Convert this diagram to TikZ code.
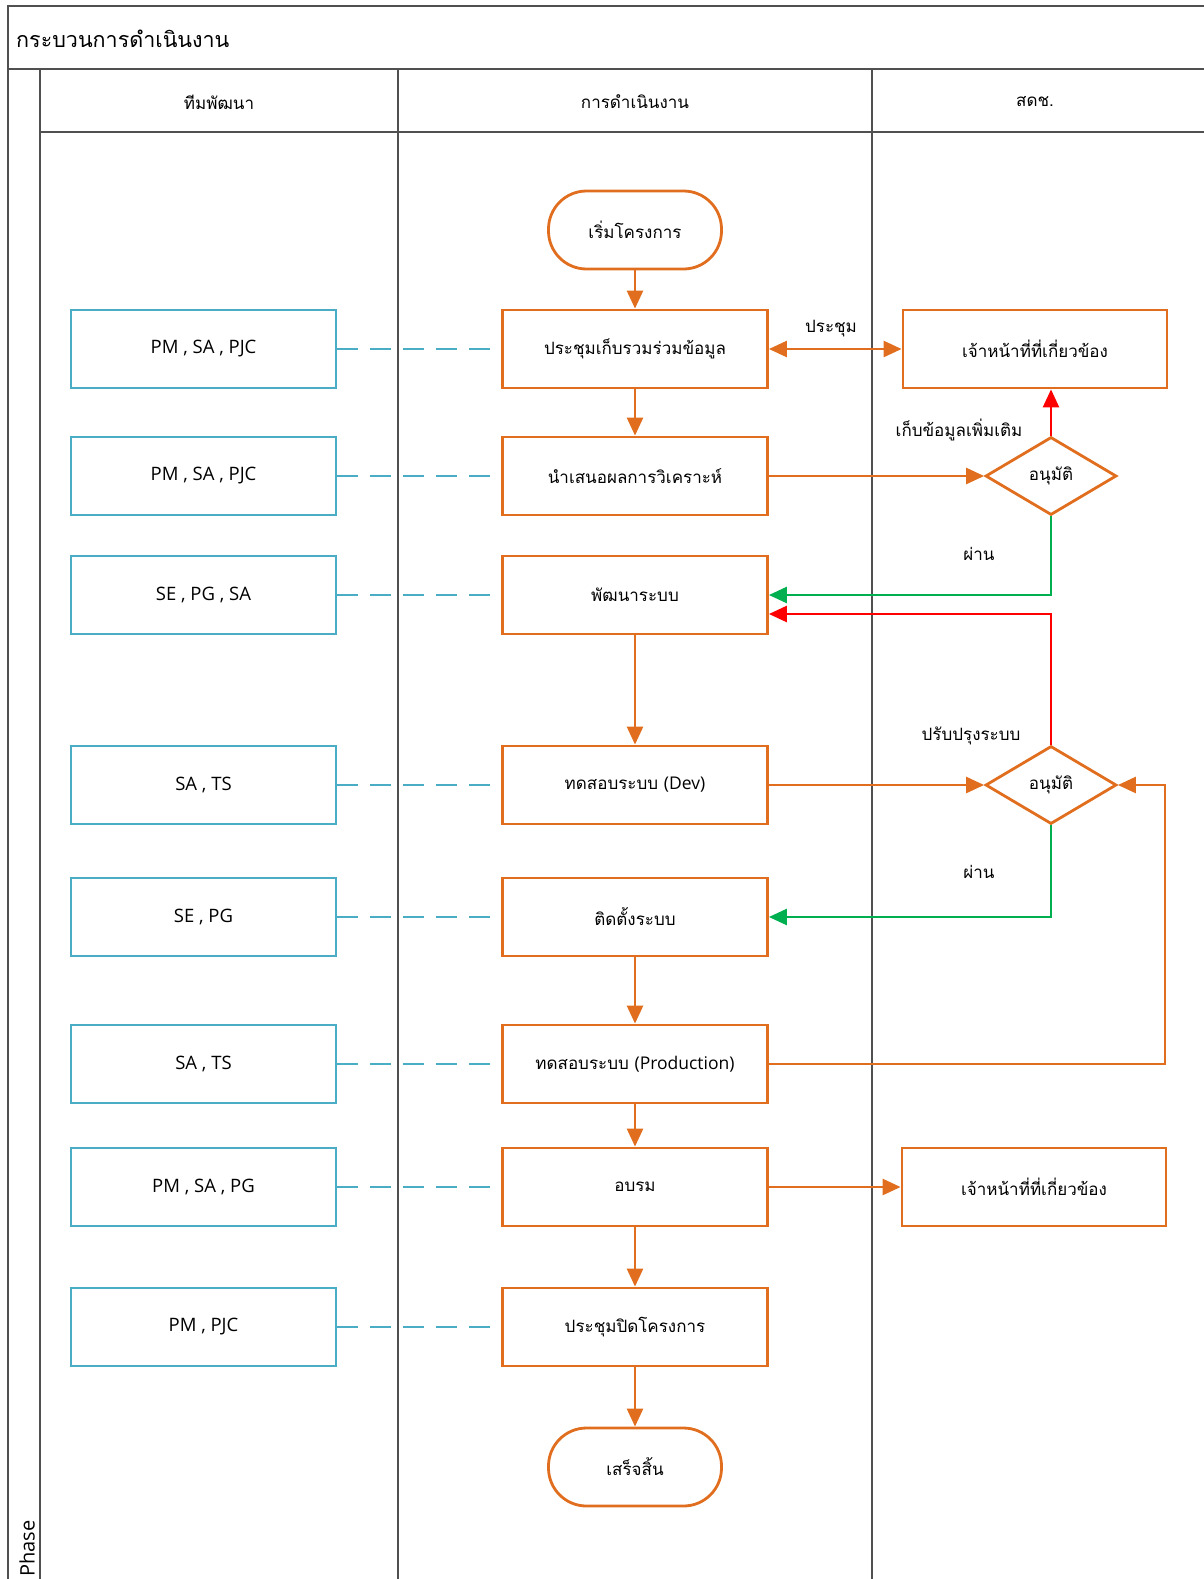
\documentclass[tikz,border=0pt]{standalone}
\usepackage{fontspec}
\setmainfont{Open Sans}
\newfontfamily\thai[Script=Thai]{Loma}
\usetikzlibrary{arrows.meta,shapes.geometric}
\definecolor{orng}{RGB}{224,110,30}
\definecolor{blu}{RGB}{75,172,198}
\definecolor{grn}{RGB}{0,176,80}
\definecolor{rd}{RGB}{255,0,0}
\definecolor{frm}{RGB}{80,80,80}
\tikzset{
  frameline/.style={draw=frm,line width=1.6pt},
  bluebox/.style={draw=blu,line width=2.8pt,minimum width=265pt,minimum height=78pt,inner sep=0pt,font=\fontsize{18.5}{22}\selectfont},
  procbox/.style={draw=orng,line width=2.8pt,minimum width=265pt,minimum height=78pt,inner sep=0pt,font=\thai\fontsize{17}{20}\selectfont},
  termbox/.style={draw=orng,line width=2.8pt,minimum width=173pt,minimum height=78pt,inner sep=0pt,rounded corners=38pt,font=\thai\fontsize{17}{20}\selectfont},
  decbox/.style={diamond,draw=orng,line width=2.8pt,minimum width=131pt,minimum height=78pt,inner sep=0pt,aspect=1.68,font=\thai\fontsize{17}{20}\selectfont},
  oarrow/.style={draw=orng,line width=2.6pt,-{Triangle[length=18pt,width=16pt]}},
  garrow/.style={draw=grn,line width=2.6pt,-{Triangle[length=18pt,width=16pt]}},
  rarrow/.style={draw=rd,line width=2.6pt,-{Triangle[length=18pt,width=16pt]}},
  dashlink/.style={draw=blu,line width=2.8pt,dash pattern=on 21pt off 12pt},
  lbl/.style={font=\thai\fontsize{17}{20}\selectfont,inner sep=0pt},
  hdr/.style={font=\thai\fontsize{17}{20}\selectfont,inner sep=0pt}
}
\begin{document}
\begin{tikzpicture}[x=1pt,y=-1pt]
\useasboundingbox (0,0) rectangle (1204,1579);
% frame
\draw[frameline] (1204,6) -- (8,6) -- (8,1579);
\draw[frameline] (8,69) -- (1204,69);
\draw[frameline] (40,69) -- (40,1579);
\draw[frameline] (398,69) -- (398,1579);
\draw[frameline] (872,69) -- (872,1579);
\draw[frameline] (40,132) -- (1204,132);
\node[anchor=west,inner sep=0pt,font=\thai\fontsize{21.5}{26}\selectfont] (title) at (16,39) {กระบวนการดำเนินงาน};
\node[anchor=west,rotate=90,inner sep=0pt,font=\fontsize{20}{24}\selectfont] (phase) at (27,1577) {Phase};
\node[hdr] (h1) at (219,102) {ทีมพัฒนา};
\node[hdr] (h2) at (635,102) {การดำเนินงาน};
\node[hdr] (h3) at (1035,102) {สดช.};
% terminals
\node[termbox] (start) at (635,230) {เริ่มโครงการ};
\node[termbox] (finish) at (635,1467) {เสร็จสิ้น};
% process boxes
\node[procbox] (p1) at (635,349) {ประชุมเก็บรวมร่วมข้อมูล};
\node[procbox] (p2) at (635,476) {นำเสนอผลการวิเคราะห์};
\node[procbox] (p3) at (635,595) {พัฒนาระบบ};
\node[procbox] (p4) at (635,785) {ทดสอบระบบ {\fontspec{Open Sans}\fontsize{17.5}{20}\selectfont(Dev)}};
\node[procbox] (p5) at (635,917) {ติดตั้งระบบ};
\node[procbox] (p6) at (635,1064) {ทดสอบระบบ {\fontspec{Open Sans}\fontsize{17.5}{20}\selectfont(Production)}};
\node[procbox] (p7) at (635,1187) {อบรม};
\node[procbox] (p8) at (635,1327) {ประชุมปิดโครงการ};
% team boxes
\node[bluebox] (t1) at (203.5,349) {PM , SA , PJC};
\node[bluebox] (t2) at (203.5,476) {PM , SA , PJC};
\node[bluebox] (t3) at (203.5,595) {SE , PG , SA};
\node[bluebox] (t4) at (203.5,785) {SA , TS};
\node[bluebox] (t5) at (203.5,917) {SE , PG};
\node[bluebox] (t6) at (203.5,1064) {SA , TS};
\node[bluebox] (t7) at (203.5,1187) {PM , SA , PG};
\node[bluebox] (t8) at (203.5,1327) {PM , PJC};
% right column
\node[procbox,minimum width=264pt] (r1) at (1035,349) {เจ้าหน้าที่ที่เกี่ยวข้อง};
\node[procbox,minimum width=264pt] (r2) at (1034,1187) {เจ้าหน้าที่ที่เกี่ยวข้อง};
\node[decbox] (d1) at (1051,476) {อนุมัติ};
\node[decbox] (d2) at (1051,785) {อนุมัติ};
% dashed links
\foreach \i in {1,...,8} {\draw[dashlink] (t\i.east) -- (p\i.west);}
% main flow
\draw[oarrow] (start) -- (p1);
\draw[oarrow] (p1) -- (p2);
\draw[oarrow] (p3) -- (p4);
\draw[oarrow] (p5) -- (p6);
\draw[oarrow] (p6) -- (p7);
\draw[oarrow] (p7) -- (p8);
\draw[oarrow] (p8) -- (finish);
\draw[draw=orng,line width=2.6pt,{Triangle[length=18pt,width=16pt]}-{Triangle[length=18pt,width=16pt]}] (p1.east) -- (r1.west);
\node[lbl] (l1) at (831,329) {ประชุม};
\draw[oarrow] (p2.east) -- (d1.west);
\draw[rarrow] (d1.north) -- (d1.north |- r1.south);
\node[lbl] (l2) at (959,430) {เก็บข้อมูลเพิ่มเติม};
\draw[garrow] (d1.south) |- (p3.east);
\node[lbl] (l3) at (979,554) {ผ่าน};
\draw[oarrow] (p4.east) -- (d2.west);
\coordinate (rr) at (1051,614);
\draw[rarrow] (d2.north) -- (rr) -- (p3.east |- rr);
\node[lbl] (l4) at (971,736) {ปรับปรุงระบบ};
\draw[garrow] (d2.south) |- (p5.east);
\node[lbl] (l5) at (979,872) {ผ่าน};
\coordinate (loopx) at (1165,1064);
\draw[oarrow] (p6.east) -- (loopx) |- (d2.east);
\draw[oarrow] (p7.east) -- (r2.west);
\end{tikzpicture}
\end{document}
